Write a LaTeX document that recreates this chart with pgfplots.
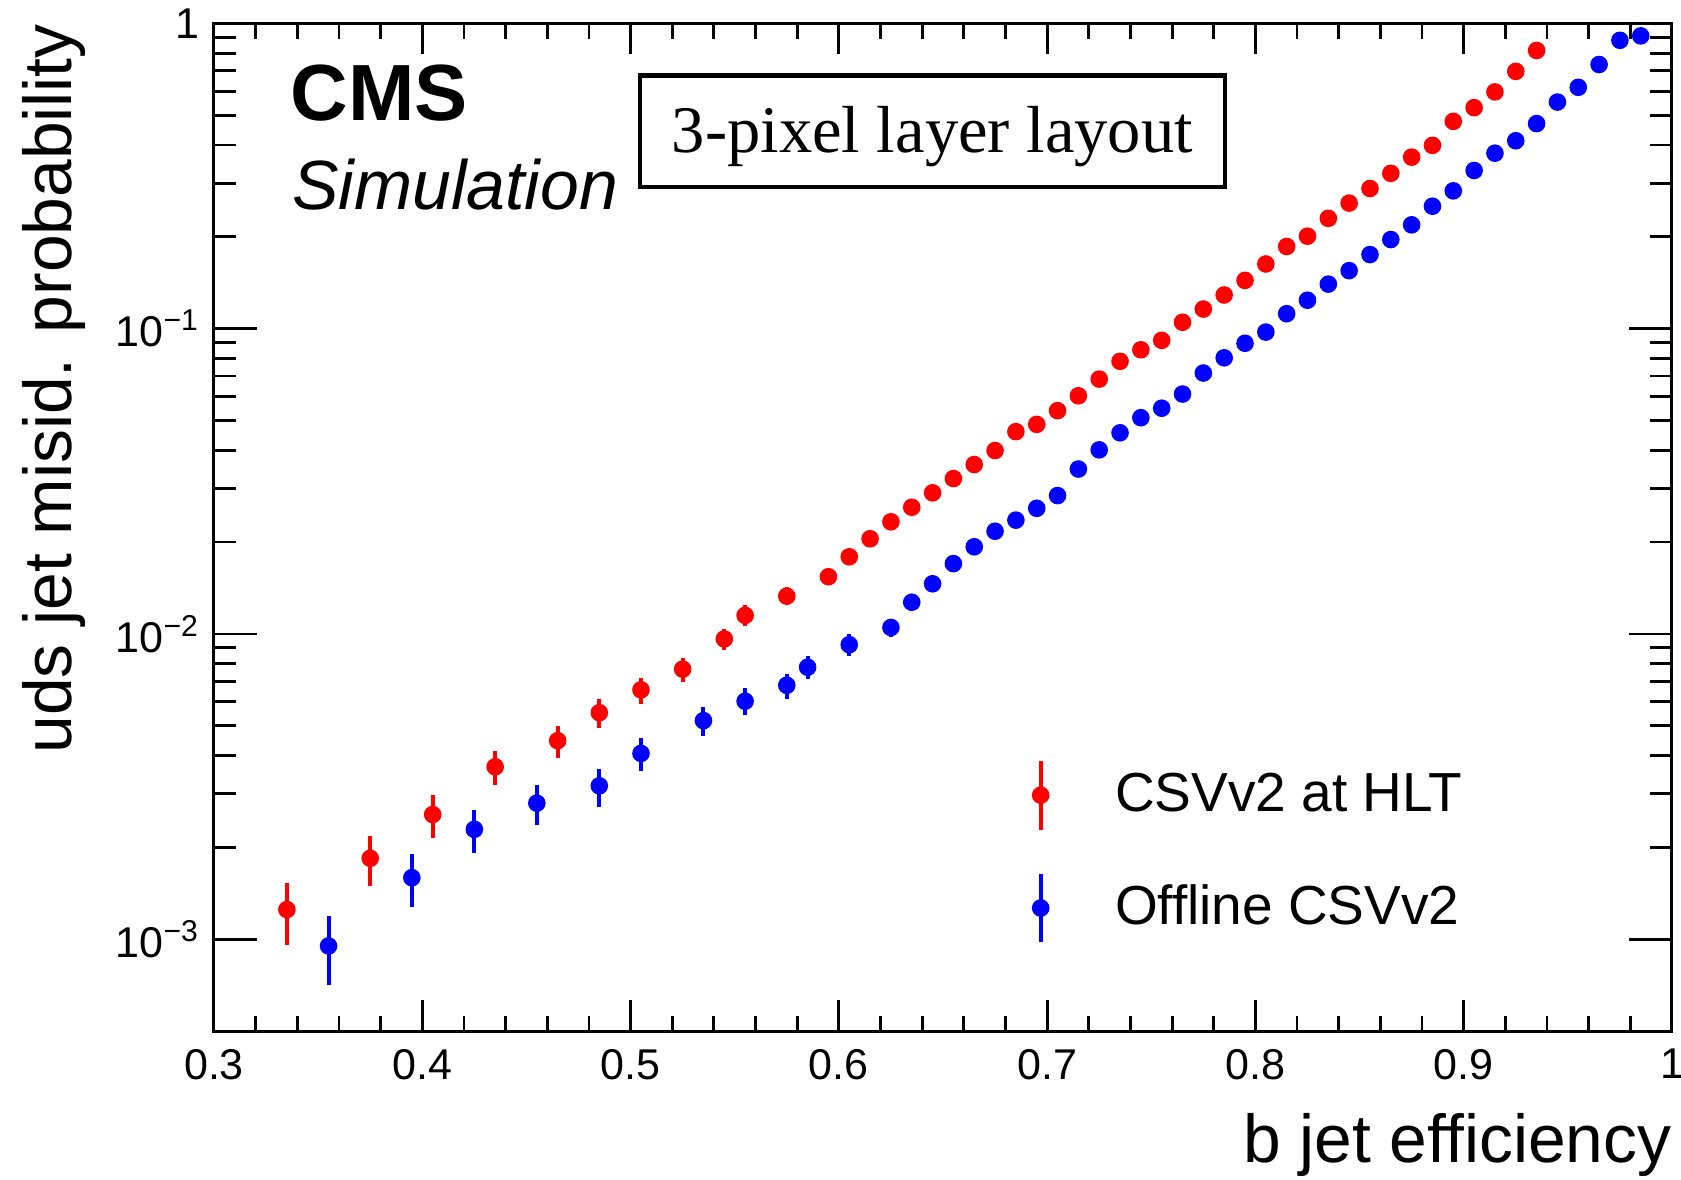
\documentclass[border=0pt]{standalone}
\usepackage{pgfplots}
\pgfplotsset{compat=1.18}
\usepackage{pgfplotstable}
\usepackage{fontspec}
\setmainfont{Liberation Sans}
\newfontfamily\timesfont{Liberation Serif}

\pgfplotstableread{
x y ep em
0.335 0.00125 0.00028 0.00029
0.375 0.00184 0.00034 0.00035
0.405 0.00256 0.00040 0.00041
0.435 0.00367 0.00048 0.00048
0.465 0.00447 0.00052 0.00055
0.485 0.00552 0.00058 0.00061
0.505 0.00656 0.00063 0.00066
0.525 0.00767 0.00070 0.00069
0.545 0.00963 0.00077 0.00076
0.555 0.0115 0.0009 0.0009
0.575 0.0133 0.0010 0.0009
0.595 0.0154 0.0009 0.0009
0.605 0.0179 0.0008 0.0008
0.615 0.0205 0.0008 0.0008
0.625 0.0233 0.0008 0.0008
0.635 0.0260 0.0008 0.0008
0.645 0.0290 0.0008 0.0008
0.655 0.0323 0.0008 0.0008
0.665 0.0359 0.0008 0.0008
0.675 0.0399 0.0008 0.0008
0.685 0.0460 0.0009 0.0009
0.695 0.0486 0.0009 0.0009
0.705 0.0539 0.0009 0.0009
0.715 0.0603 0.0009 0.0009
0.725 0.0684 0.0010 0.0010
0.735 0.0782 0.0010 0.0010
0.745 0.0853 0.0011 0.0011
0.755 0.0916 0.0011 0.0011
0.765 0.105 0.0012 0.0012
0.775 0.116 0.0013 0.0013
0.785 0.129 0.0014 0.0014
0.795 0.144 0.0015 0.0015
0.805 0.163 0.0016 0.0016
0.815 0.186 0.0018 0.0018
0.825 0.201 0.0019 0.0019
0.835 0.230 0.0021 0.0021
0.845 0.258 0.0023 0.0023
0.855 0.288 0.0025 0.0025
0.865 0.323 0.0027 0.0027
0.875 0.365 0.0029 0.0029
0.885 0.399 0.0031 0.0031
0.895 0.478 0.0034 0.0034
0.905 0.530 0.0036 0.0036
0.915 0.597 0.0038 0.0038
0.925 0.697 0.0041 0.0041
0.935 0.816 0.0044 0.0044
}\tabhlt

\pgfplotstableread{
x y ep em
0.355 0.00095 0.00024 0.00024
0.395 0.00159 0.00031 0.00032
0.425 0.00229 0.00036 0.00038
0.455 0.00279 0.00042 0.00042
0.485 0.00318 0.00043 0.00046
0.505 0.00406 0.00051 0.00050
0.535 0.00520 0.00057 0.00057
0.555 0.00602 0.00062 0.00060
0.575 0.00679 0.00062 0.00066
0.585 0.00778 0.00071 0.00067
0.605 0.00922 0.00080 0.00074
0.625 0.0105 0.0007 0.0007
0.635 0.0127 0.0007 0.0007
0.645 0.0146 0.0007 0.0007
0.655 0.0170 0.0007 0.0007
0.665 0.0193 0.0007 0.0007
0.675 0.0217 0.0007 0.0007
0.685 0.0236 0.0007 0.0007
0.695 0.0258 0.0007 0.0007
0.705 0.0284 0.0007 0.0007
0.715 0.0347 0.0008 0.0008
0.725 0.0401 0.0008 0.0008
0.735 0.0456 0.0009 0.0009
0.745 0.0511 0.0009 0.0009
0.755 0.0549 0.0010 0.0010
0.765 0.0611 0.0010 0.0010
0.775 0.0716 0.0011 0.0011
0.785 0.0803 0.0012 0.0012
0.795 0.0896 0.0012 0.0012
0.805 0.0975 0.0013 0.0013
0.815 0.112 0.0014 0.0014
0.825 0.124 0.0015 0.0015
0.835 0.140 0.0016 0.0016
0.845 0.155 0.0017 0.0017
0.855 0.175 0.0018 0.0018
0.865 0.196 0.0019 0.0019
0.875 0.219 0.0020 0.0020
0.885 0.252 0.0022 0.0022
0.895 0.283 0.0023 0.0023
0.905 0.330 0.0025 0.0025
0.915 0.376 0.0027 0.0027
0.925 0.413 0.0028 0.0028
0.935 0.470 0.0030 0.0030
0.945 0.553 0.0032 0.0032
0.955 0.618 0.0034 0.0034
0.965 0.734 0.0036 0.0036
0.975 0.881 0.0038 0.0038
0.985 0.911 0.0039 0.0039
}\taboff

\begin{document}
\begin{tikzpicture}
\useasboundingbox (-53.5bp,-37.25bp) rectangle (366.75bp,257.75bp);
\begin{axis}[
  at={(0,0)}, anchor=south west,
  scale only axis, width=364.5bp, height=251.875bp,
  xmin=0.3, xmax=1, ymode=log, ymin=5e-4, ymax=1,
  xtick={0.3,0.4,0.5,0.6,0.7,0.8,0.9,1},
  xticklabels={0.3,0.4,0.5,0.6,0.7,0.8,0.9,1},
  minor x tick num=4,
  ytick={0.001,0.01,0.1,1},
  yticklabels={10\textsuperscript{−3},10\textsuperscript{−2},10\textsuperscript{−1},1},
  tick align=inside, xtick pos=both, ytick pos=both,
  major tick length=7.75bp, minor tick length=3.8bp,
  ytick style={/pgfplots/major tick length=10.7bp,/pgfplots/minor tick length=5.4bp},
  axis line style={line width=0.75bp},
  every tick/.style={black, line width=0.7bp},
  tick label style={font=\fontsize{10.8}{12}\selectfont},
  xticklabel style={yshift=-1bp},
  xlabel={b jet efficiency},
  ylabel={uds jet misid. probability},
  label style={font=\fontsize{17}{20}\selectfont},
  xlabel style={at={(axis description cs:1,-0.131)}, anchor=base east, inner sep=0pt},
  ylabel style={at={(axis description cs:-0.11,1)}, anchor=east, inner sep=0pt},
  legend style={at={(axis description cs:0.5555,0.271)}, anchor=north west, draw=none, fill=none,
    inner sep=0pt, row sep=10bp, font=\fontsize{13.8}{16}\selectfont},
  legend cell align=left,
  legend image code/.code={
    \draw[line width=1bp] (0bp,-8.6bp) -- (0bp,8.6bp);
    \fill (0bp,0bp) circle (2bp);
    \path[draw=none, fill=none] (-4bp,0bp) rectangle (16.6bp,0.1bp);
  },
]
\addplot[red, only marks, mark=*, mark size=2bp, mark options={fill=red, draw=red},
  error bars/.cd, y dir=both, y explicit, error mark=none,
  error bar style={line width=1bp, red}]
  table[x=x, y=y, y error plus=ep, y error minus=em] {\tabhlt};
\addlegendentry{CSVv2 at HLT}
\addplot[blue, only marks, mark=*, mark size=2bp, mark options={fill=blue, draw=blue},
  error bars/.cd, y dir=both, y explicit, error mark=none,
  error bar style={line width=1bp, blue}]
  table[x=x, y=y, y error plus=ep, y error minus=em] {\taboff};
\addlegendentry{Offline CSVv2}

\node[anchor=base west, inner sep=0pt, font=\fontsize{20}{24}\selectfont\bfseries]
  at (axis description cs:0.0519,0.904) {CMS};
\node[anchor=base west, inner sep=0pt, font=\fontsize{17.5}{21}\selectfont\itshape]
  at (axis description cs:0.0532,0.815) {Simulation};
\node[draw, line width=1.1bp, minimum width=146.25bp, minimum height=27.9bp, inner sep=0pt]
  at (axis description cs:0.4927,0.893) {};
\node[inner sep=0pt, font=\timesfont\fontsize{16.7}{20}\selectfont, yshift=-1.3bp]
  at (axis description cs:0.4927,0.893) {3-pixel layer layout};
\end{axis}
\end{tikzpicture}
\end{document}
